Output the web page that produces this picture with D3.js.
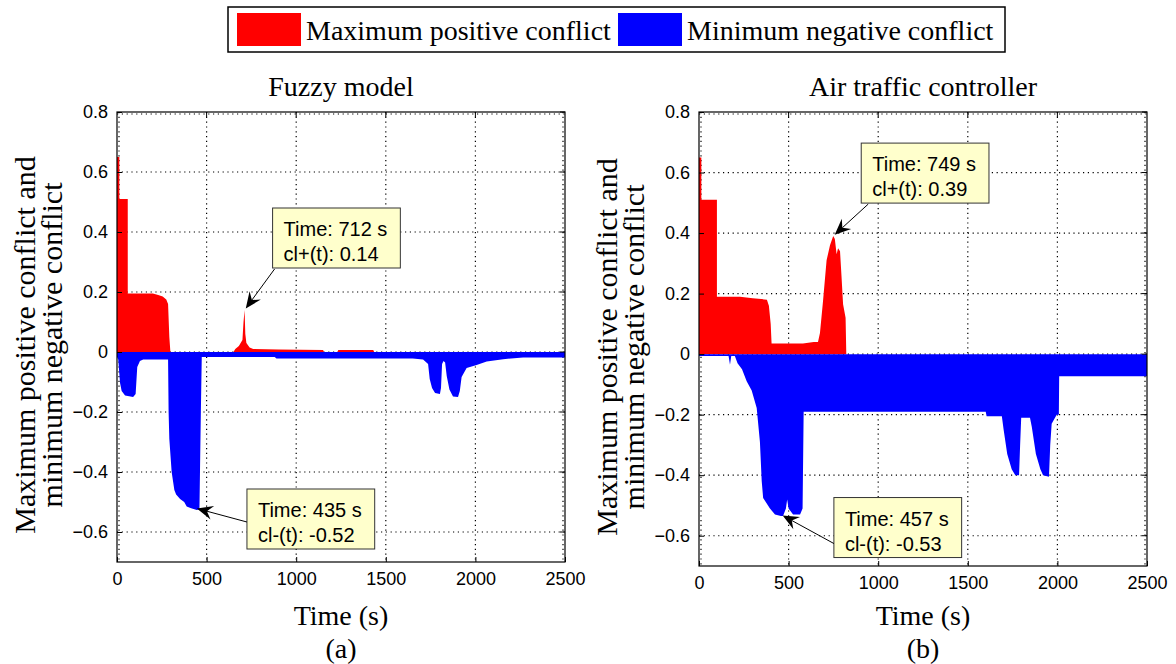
<!DOCTYPE html>
<html>
<head>
<meta charset="utf-8">
<script src="https://cdn.jsdelivr.net/npm/d3@7"></script>
<style>
  body { margin: 0; background: #fff; }
  svg { display: block; }
</style>
</head>
<body>
<div id="chart"></div>
<script>
// tick values
const timeTicks = [0, 500, 1000, 1500, 2000, 2500];
const valueTicks = [-0.6, -0.4, -0.2, 0, 0.2, 0.4, 0.6, 0.8];

const seriesNames = ["Maximum positive conflict", "Minimum negative conflict"];
const panelTitles = ["Fuzzy model", "Air traffic controller"];
const panelLetters = ["(a)", "(b)"];

// (a) fuzzy model: [time s, value]
const fuzzyPositive = [
  [0, 0.65], [13, 0.65], [13, 0.51], [60, 0.51], [60, 0.195], [200, 0.195], [230, 0.19],
  [255, 0.185], [275, 0.175], [285, 0.16], [292, 0.05], [298, 0], [650, 0], [660, 0.01],
  [680, 0.02], [700, 0.04], [706, 0.1], [712, 0.14], [716, 0.06], [722, 0.03], [740, 0.015],
  [760, 0.01], [900, 0.008], [1150, 0.007], [1155, 0], [1230, 0], [1235, 0.007],
  [1430, 0.007], [1435, 0], [2500, 0]
];
const fuzzyNegative = [
  [0, -0.017], [7, -0.025], [17, -0.103], [26, -0.13], [45, -0.145], [90, -0.15],
  [104, -0.14], [113, -0.05], [128, -0.03], [146, -0.025], [285, -0.025], [288, -0.2],
  [292, -0.29], [305, -0.4], [320, -0.46], [330, -0.475], [352, -0.49], [375, -0.5],
  [389, -0.515], [410, -0.52], [445, -0.527], [460, -0.525], [468, -0.2], [473, -0.017],
  [880, -0.017], [890, -0.022], [1650, -0.022], [1708, -0.025], [1736, -0.04],
  [1745, -0.09], [1758, -0.12], [1775, -0.137], [1802, -0.14], [1808, -0.12],
  [1814, -0.04], [1822, -0.03], [1831, -0.035], [1840, -0.08], [1855, -0.125],
  [1875, -0.148], [1903, -0.15], [1913, -0.13], [1923, -0.083], [1951, -0.053],
  [2007, -0.043], [2063, -0.032], [2155, -0.024], [2266, -0.018], [2500, -0.018]
];
const fuzzyTips = [
  { time: 712, value: 0.14, sign: "+" },
  { time: 435, value: -0.52, sign: "-" }
];

// (b) air traffic controller: [time s, value]
const atcPositive = [
  [0, 0.65], [13, 0.65], [13, 0.51], [100, 0.51], [100, 0.19], [229, 0.19], [300, 0.185],
  [379, 0.18], [390, 0.16], [400, 0.1], [405, 0.035], [580, 0.035], [640, 0.04],
  [664, 0.04], [675, 0.07], [692, 0.175], [712, 0.31], [731, 0.36], [749, 0.39],
  [758, 0.38], [768, 0.33], [776, 0.35], [787, 0.34], [795, 0.26], [804, 0.165],
  [818, 0.12], [822, 0], [2500, 0]
];
const atcNegative = [
  [0, -0.006], [165, -0.006], [173, -0.035], [180, -0.006], [200, -0.006], [215, -0.03],
  [240, -0.05], [266, -0.09], [294, -0.12], [322, -0.178], [340, -0.29], [350, -0.42],
  [358, -0.475], [396, -0.51], [424, -0.53], [457, -0.535], [469, -0.535], [485, -0.51],
  [492, -0.48], [500, -0.51], [525, -0.53], [564, -0.53], [578, -0.51], [584, -0.19],
  [1600, -0.19], [1605, -0.205], [1690, -0.205], [1700, -0.25], [1720, -0.33],
  [1745, -0.38], [1765, -0.4], [1786, -0.4], [1792, -0.3], [1798, -0.21], [1847, -0.21],
  [1857, -0.24], [1880, -0.33], [1905, -0.38], [1920, -0.4], [1953, -0.405],
  [1960, -0.3], [1968, -0.23], [1996, -0.2], [2008, -0.2], [2010, -0.073], [2500, -0.073]
];
const atcTips = [
  { time: 749, value: 0.39, sign: "+" },
  { time: 457, value: -0.53, sign: "-" }
];

const W = 1176, H = 664;
const serif = "'Liberation Serif', 'Times New Roman', serif";
const sans = "'Liberation Sans', Arial, sans-serif";

const svg = d3.select("#chart").append("svg")
  .attr("width", W).attr("height", H)
  .style("background", "#fff");

// panel layout + where each data tip box sits relative to its point
const panels = [
  { title: panelTitles[0], letter: panelLetters[0], pos: fuzzyPositive, neg: fuzzyNegative,
    tips: fuzzyTips, left: 117, right: 565, top: 112, bottom: 562,
    tipBox: [{ dx: 28, dy: -102, ax: 2, ay: 61 }, { dx: 52, dy: -19, ax: 0, ay: 33 }] },
  { title: panelTitles[1], letter: panelLetters[1], pos: atcPositive, neg: atcNegative,
    tips: atcTips, left: 699, right: 1147, top: 112, bottom: 566,
    tipBox: [{ dx: 28, dy: -93, ax: 7, ay: 61 }, { dx: 53, dy: -17, ax: 0, ay: 46 }] }
];

panels.forEach(p => {
  const x = d3.scaleLinear().domain([0, 2500]).range([p.left, p.right]);
  const y = d3.scaleLinear().domain([-0.7, 0.8]).range([p.bottom, p.top]);
  const g = svg.append("g");

  // dotted grid (under data)
  const grid = g.append("g")
    .attr("stroke", "#000").attr("stroke-width", 1.2).attr("stroke-dasharray", "1.2,3.6");
  timeTicks.forEach(t => {
    const xx = t === 0 ? x(t) + 2 : (t === 2500 ? x(t) - 2 : x(t));
    grid.append("line").attr("x1", xx).attr("x2", xx).attr("y1", p.top).attr("y2", p.bottom);
  });
  valueTicks.forEach(v => {
    const yy = v === 0.8 ? y(v) + 2 : y(v);
    grid.append("line").attr("x1", p.left).attr("x2", p.right).attr("y1", yy).attr("y2", yy);
  });

  const area = d3.area()
    .x(d => x(d[0]))
    .y0(y(0))
    .y1(d => y(d[1]));

  g.append("path").datum(p.pos).attr("d", area).attr("fill", "#ff0000");
  g.append("path").datum(p.neg).attr("d", area).attr("fill", "#0000ff");

  // axes, ticks pointing inward like MATLAB
  const xAxis = d3.axisBottom(x).tickValues(timeTicks).tickSize(-5).tickPadding(10)
    .tickFormat(d3.format("d"));
  const yAxis = d3.axisLeft(y).tickValues(valueTicks).tickSize(-5).tickPadding(9)
    .tickFormat(d => d === 0 ? "0" : d3.format(".1f")(d));

  const ax = g.append("g").attr("transform", `translate(0,${p.bottom})`).call(xAxis);
  const ay = g.append("g").attr("transform", `translate(${p.left},0)`).call(yAxis);
  [ax, ay].forEach(a => {
    a.select(".domain").remove();
    a.selectAll("line").attr("stroke", "#000");
    a.selectAll("text").attr("font-family", sans).attr("font-size", 18).attr("fill", "#000");
  });
  // top/right ticks
  timeTicks.slice(1, -1).forEach(t => {
    g.append("line").attr("x1", x(t)).attr("x2", x(t)).attr("y1", p.top).attr("y2", p.top + 5).attr("stroke", "#000");
  });
  valueTicks.forEach(v => {
    g.append("line").attr("x1", p.right).attr("x2", p.right - 5).attr("y1", y(v)).attr("y2", y(v)).attr("stroke", "#000");
  });
  g.append("rect")
    .attr("x", p.left).attr("y", p.top)
    .attr("width", p.right - p.left).attr("height", p.bottom - p.top)
    .attr("fill", "none").attr("stroke", "#000").attr("stroke-width", 1.2);

  // titles and labels
  const cx = (p.left + p.right) / 2;
  g.append("text").attr("x", cx).attr("y", 96).attr("text-anchor", "middle")
    .attr("font-family", serif).attr("font-size", 28).text(p.title);
  g.append("text").attr("x", cx).attr("y", 625).attr("text-anchor", "middle")
    .attr("font-family", serif).attr("font-size", 28).text("Time (s)");
  g.append("text").attr("x", cx).attr("y", 658).attr("text-anchor", "middle")
    .attr("font-family", serif).attr("font-size", 28).text(p.letter);

  const cy = (p.top + p.bottom) / 2 + 8;
  const lx = p.left - 82;
  const yl = g.append("text")
    .attr("transform", `translate(${lx},${cy}) rotate(-90)`)
    .attr("text-anchor", "middle").attr("font-family", serif).attr("font-size", 30);
  yl.append("tspan").attr("x", 0).attr("dy", 0).text("Maximum positive conflict and");
  yl.append("tspan").attr("x", 0).attr("dy", 27).text("minimum negative conflict");

  // data tips
  p.tips.forEach((tip, i) => {
    const px = x(tip.time), py = y(tip.value);
    const lay = p.tipBox[i];
    const bx = px + lay.dx, by = py + lay.dy;
    const tg = g.append("g");
    const box = tg.append("rect").attr("x", bx).attr("y", by).attr("height", 60)
      .attr("fill", "#ffffcc").attr("stroke", "#333").attr("stroke-width", 1);
    const t1 = tg.append("text").attr("x", bx + 11).attr("y", by + 28)
      .attr("font-family", sans).attr("font-size", 20).text(`Time: ${tip.time} s`);
    const t2 = tg.append("text").attr("x", bx + 11).attr("y", by + 53)
      .attr("font-family", sans).attr("font-size", 20)
      .text(`cl${tip.sign}(t): ${tip.value.toFixed(2)}`);
    const tw = Math.max(t1.node().getComputedTextLength(), t2.node().getComputedTextLength());
    box.attr("width", tw + 24);

    // arrow from box to point
    const sx = bx + lay.ax, sy = by + lay.ay;
    const ang = Math.atan2(py - sy, px - sx);
    const ex = px - Math.cos(ang) * 2, ey = py - Math.sin(ang) * 2;
    const hl = 16, hw = 7;
    const bxx = ex - Math.cos(ang) * hl, byy = ey - Math.sin(ang) * hl;
    const nx = ex - Math.cos(ang) * hl * 0.65, ny = ey - Math.sin(ang) * hl * 0.65;
    const pxn = -Math.sin(ang), pyn = Math.cos(ang);
    tg.append("line").attr("x1", sx).attr("y1", sy).attr("x2", nx).attr("y2", ny)
      .attr("stroke", "#000").attr("stroke-width", 1);
    tg.append("path")
      .attr("d", `M${ex},${ey}L${bxx + pxn * hw},${byy + pyn * hw}L${nx},${ny}L${bxx - pxn * hw},${byy - pyn * hw}Z`)
      .attr("fill", "#000");
  });
});

// legend
const lg = svg.append("g");
lg.append("rect").attr("x", 228).attr("y", 7).attr("width", 777).attr("height", 45)
  .attr("fill", "#fff").attr("stroke", "#000").attr("stroke-width", 1.5);
const legendColors = ["#ff0000", "#0000ff"];
const legendX = [237, 618];
seriesNames.forEach((name, i) => {
  lg.append("rect").attr("x", legendX[i]).attr("y", 13).attr("width", 64).attr("height", 33)
    .attr("fill", legendColors[i]);
  lg.append("text").attr("x", legendX[i] + 69).attr("y", 40)
    .attr("font-family", serif).attr("font-size", 28).text(name);
});
</script>
</body>
</html>
